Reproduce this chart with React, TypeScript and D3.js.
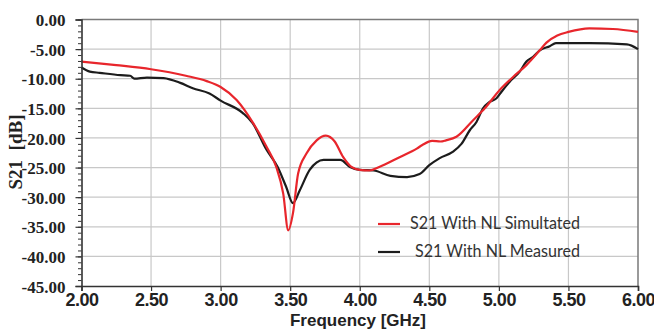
import React, { useEffect, useRef } from "react";
import * as d3 from "d3";

// frequency [GHz] / S21 [dB]
const simFreq = [2.0, 2.25, 2.5, 2.75, 2.9, 3.0, 3.115, 3.234, 3.33, 3.4, 3.45, 3.486, 3.52, 3.557, 3.618, 3.69, 3.756, 3.82, 3.88, 3.94, 4.0, 4.07, 4.14, 4.29, 4.41, 4.45, 4.52, 4.58, 4.62, 4.695, 4.815, 4.899, 5.006, 5.102, 5.198, 5.294, 5.342, 5.42, 5.5, 5.65, 5.82, 6.0];
const simS21 = [-7.1, -7.7, -8.4, -9.5, -10.4, -11.4, -13.6, -17.5, -21.5, -24.9, -29.4, -35.6, -32.7, -26.0, -22.6, -20.4, -19.6, -20.6, -23.2, -24.9, -25.4, -25.5, -24.9, -23.2, -21.8, -21.2, -20.5, -20.6, -20.4, -19.8, -17.0, -15.0, -11.9, -9.7, -7.7, -5.2, -3.9, -2.7, -2.1, -1.5, -1.6, -2.1];

const measFreq = [2.0, 2.06, 2.13, 2.28, 2.35, 2.38, 2.47, 2.59, 2.71, 2.8, 2.92, 3.0, 3.16, 3.23, 3.33, 3.41, 3.47, 3.52, 3.57, 3.64, 3.74, 3.86, 3.93, 4.0, 4.1, 4.22, 4.34, 4.43, 4.5, 4.575, 4.671, 4.731, 4.791, 4.839, 4.886, 4.934, 4.983, 5.019, 5.078, 5.15, 5.198, 5.246, 5.294, 5.366, 5.41, 5.65, 5.92, 6.0];
const measS21 = [-8.1, -8.8, -9.0, -9.4, -9.5, -10.0, -9.8, -9.9, -10.7, -11.6, -12.5, -13.7, -15.8, -17.5, -22.0, -24.9, -28.2, -31.0, -28.8, -25.4, -23.7, -23.7, -24.9, -25.4, -25.5, -26.4, -26.6, -26.1, -24.6, -23.4, -22.3, -21.0, -18.7, -17.3, -15.0, -13.9, -13.3, -12.2, -10.5, -8.8, -7.1, -6.3, -5.2, -4.5, -4.0, -4.0, -4.2, -5.0];

const xTicks = [2.0, 2.5, 3.0, 3.5, 4.0, 4.5, 5.0, 5.5, 6.0];
const yTicks = [0, -5, -10, -15, -20, -25, -30, -35, -40, -45];

const legendLabels = ["S21 With NL Simultated", "S21 With NL Measured"];
const seriesColors = ["#e8262c", "#1c1c1c"];

const App = () => {
  const svgRef = useRef<SVGSVGElement>(null);

  useEffect(() => {
    const svg = d3.select(svgRef.current);
    svg.selectAll("*").remove();

    const width = 654;
    const height = 329;
    const margin = { top: 19.5, right: 16, bottom: 43, left: 81.5 };

    const x = d3.scaleLinear().domain([2, 6]).range([margin.left, width - margin.right]);
    const y = d3.scaleLinear().domain([-45, 0]).range([height - margin.bottom, margin.top]);

    svg.append("rect").attr("width", width).attr("height", height).attr("fill", "#fff");

    // grid
    svg.append("g")
      .selectAll("line")
      .data(xTicks.slice(1, -1))
      .enter()
      .append("line")
      .attr("x1", d => x(d)).attr("x2", d => x(d))
      .attr("y1", y(0)).attr("y2", y(-45))
      .attr("stroke", "#c8c8c8").attr("stroke-width", 1.2);

    svg.append("g")
      .selectAll("line")
      .data(yTicks.slice(1, -1))
      .enter()
      .append("line")
      .attr("x1", x(2)).attr("x2", x(6))
      .attr("y1", d => y(d)).attr("y2", d => y(d))
      .attr("stroke", "#c8c8c8").attr("stroke-width", 1.2);

    // top / right frame
    svg.append("path")
      .attr("d", `M${x(2)},${y(0)}H${x(6)}V${y(-45)}`)
      .attr("fill", "none").attr("stroke", "#7a7a7a").attr("stroke-width", 1.5);

    // curves
    const series = [
      simFreq.map((f, i) => [f, simS21[i]] as [number, number]),
      measFreq.map((f, i) => [f, measS21[i]] as [number, number]),
    ];
    const line = d3.line<[number, number]>()
      .x(d => x(d[0]))
      .y(d => y(d[1]))
      .curve(d3.curveMonotoneX);

    [1, 0].forEach(i => {
      svg.append("path")
        .attr("d", line(series[i]))
        .attr("fill", "none")
        .attr("stroke", seriesColors[i])
        .attr("stroke-width", 2.2)
        .attr("stroke-linejoin", "round");
    });

    // y axis
    const yAxis = d3.axisLeft(y)
      .tickValues(yTicks)
      .tickSize(6)
      .tickFormat(d => (d as number).toFixed(2));
    const yMinor = d3.axisLeft(y)
      .tickValues(d3.range(-45, 1, 1))
      .tickSize(3.5)
      .tickFormat(() => "");

    svg.append("g").attr("transform", `translate(${margin.left},0)`).call(yMinor)
      .call(g => g.select(".domain").remove())
      .selectAll("line").attr("stroke", "#333");

    const gy = svg.append("g").attr("transform", `translate(${margin.left},0)`).call(yAxis);
    gy.select(".domain").attr("stroke", "#333").attr("stroke-width", 1.6);
    gy.selectAll("line").attr("stroke", "#333").attr("stroke-width", 1.2);
    gy.selectAll("text")
      .attr("x", -16)
      .attr("dy", "0.36em")
      .style("font-family", "'Liberation Serif', serif")
      .style("font-weight", "bold")
      .style("font-size", "17px")
      .style("fill", "#222");

    // x axis
    const xAxis = d3.axisBottom(x)
      .tickValues(xTicks)
      .tickSize(5)
      .tickFormat(d => (d as number).toFixed(2));
    const gx = svg.append("g").attr("transform", `translate(0,${y(-45)})`).call(xAxis);
    gx.select(".domain").attr("stroke", "#333").attr("stroke-width", 1.6);
    gx.selectAll("line").attr("stroke", "#333").attr("stroke-width", 1.2);
    gx.selectAll("text")
      .attr("y", 6)
      .attr("dy", "0.8em")
      .style("font-family", "'Liberation Sans', Arial, sans-serif")
      .style("font-weight", "bold")
      .style("font-size", "18px")
      .style("letter-spacing", "-0.5px")
      .style("fill", "#222");

    // axis titles
    svg.append("text")
      .attr("x", 358)
      .attr("y", 326)
      .attr("text-anchor", "middle")
      .style("font-family", "'Liberation Sans', Arial, sans-serif")
      .style("font-weight", "bold")
      .style("font-size", "17px")
      .style("fill", "#222")
      .text("Frequency [GHz]");

    svg.append("text")
      .attr("transform", "translate(22,152) rotate(-90)")
      .attr("text-anchor", "middle")
      .style("font-family", "'Liberation Serif', serif")
      .style("font-weight", "bold")
      .style("font-size", "19px")
      .style("fill", "#222")
      .style("white-space", "pre")
      .text("S21  [dB]");

    // legend
    const legendY = [224, 252];
    const legendTextX = [410, 415];
    const legendTextW = [170, 165];
    const lg = svg.append("g");
    legendLabels.forEach((label, i) => {
      lg.append("line")
        .attr("x1", 378).attr("x2", 400)
        .attr("y1", legendY[i]).attr("y2", legendY[i])
        .attr("stroke", seriesColors[i]).attr("stroke-width", 2.2);
      lg.append("text")
        .attr("x", legendTextX[i])
        .attr("y", legendY[i] + 5)
        .attr("textLength", legendTextW[i])
        .attr("lengthAdjust", "spacingAndGlyphs")
        .style("font-family", "Lato, 'Open Sans', sans-serif")
        .style("font-size", "17px")
        .style("fill", "#333")
        .text(label);
    });
  }, []);

  return (
    <svg
      ref={svgRef}
      width={654}
      height={329}
      style={{ position: "absolute", left: 0, top: 0 }}
    />
  );
};

export default App;
